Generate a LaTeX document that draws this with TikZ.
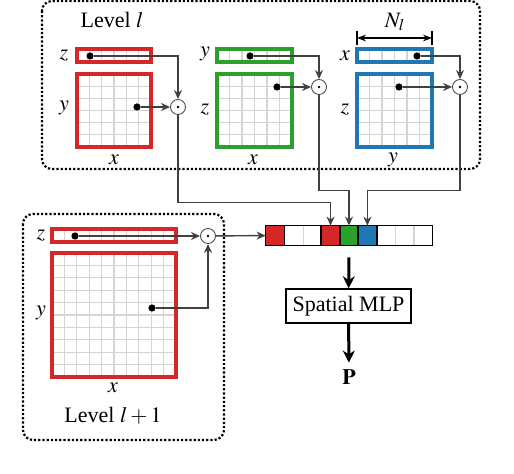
\documentclass[tikz,border=0pt]{standalone}
\usepackage{mathptmx}
\usepackage{fontspec}
\setmainfont{Liberation Serif}
\usetikzlibrary{arrows.meta,positioning}

\definecolor{planered}{HTML}{D62728}
\definecolor{planegreen}{HTML}{2CA02C}
\definecolor{planeblue}{HTML}{1F77B4}

\tikzset{
  plane/.style={draw=#1, line width=1.7pt},
  cellline/.style={black!17, line width=0.6pt},
  wire/.style={draw=black!75, line width=0.7pt},
  conn/.style={wire, -{Stealth[length=4.5pt,width=4pt]}},
  mult/.style={draw=black!70, circle, line width=0.45pt, minimum size=7.5pt, inner sep=0pt},
  featdot/.style={circle, fill=black, inner sep=0pt, minimum size=3.6pt},
  levelbox/.style={densely dotted, line width=1.1pt, rounded corners=5pt},
  cell/.style={inner sep=0pt, minimum width=9.22pt, minimum height=9.5pt},
  bigarrow/.style={line width=1.5pt, -{Stealth[length=6pt,width=6pt]}}
}

% gray grid lines inside a plane: x0 y0 x1 y1 nx ny
\newcommand{\planegrid}[6]{%
  \foreach \k in {1,...,#5} {\draw[cellline] ({#1+\k*(#3-#1)/#5},#2) -- ({#1+\k*(#3-#1)/#5},#4);}
  \foreach \k in {1,...,#6} {\draw[cellline] (#1,{#2+\k*(#4-#2)/#6}) -- (#3,{#2+\k*(#4-#2)/#6});}
}

\begin{document}
\begin{tikzpicture}[x=0.5pt,y=-0.5pt,font=\fontsize{11}{13}\selectfont]
  \useasboundingbox (0,0) rectangle (514,474);

  % level l
  \draw[levelbox] (42,1) rectangle (480,169);
  \node (lvl) at (112,20) {Level $l$};

  % red planes
  \planegrid{77}{49}{151}{62}{6}{1}
  \planegrid{77}{74}{151}{147}{6}{6}
  \draw[plane=planered] (77,49) rectangle (151,62);
  \draw[plane=planered] (77,74) rectangle (151,147);
  \node (rz) at (64,56) {$z$};
  \node (ry) at (64,108) {$y$};
  \node (rx) at (114,160) {$x$};

  % green planes
  \planegrid{217}{49}{292}{62}{6}{1}
  \planegrid{217}{74}{292}{147}{6}{6}
  \draw[plane=planegreen] (217,49) rectangle (292,62);
  \draw[plane=planegreen] (217,74) rectangle (292,147);
  \node (gy) at (205,54) {$y$};
  \node (gz) at (205,110) {$z$};
  \node (gx) at (253,160) {$x$};

  % blue planes
  \planegrid{357}{49}{432}{62}{6}{1}
  \planegrid{357}{74}{432}{147}{6}{6}
  \draw[plane=planeblue] (357,49) rectangle (432,62);
  \draw[plane=planeblue] (357,74) rectangle (432,147);
  \node (bx) at (345,56) {$x$};
  \node (bz) at (345,110) {$z$};
  \node (by) at (393,160) {$y$};

  % resolution
  \draw[line width=0.55pt] (357,31) -- (357,45);
  \draw[line width=0.55pt] (432,31) -- (432,45);
  \draw[line width=0.55pt, {Stealth[length=4.5pt]}-{Stealth[length=4.5pt]}] (357,38) -- (432,38);
  \node (res) at (395,22) {$N_l$};

  % level l+1
  \draw[levelbox] (23,214) rectangle (224,440);
  \planegrid{52}{229}{176}{242}{10}{1}
  \planegrid{52}{253}{176}{377}{10}{10}
  \draw[plane=planered] (52,229) rectangle (176,242);
  \draw[plane=planered] (52,253) rectangle (176,377);
  \node (lz) at (41,236) {$z$};
  \node (ly) at (41,313) {$y$};
  \node (lx) at (113,388) {$x$};
  \node (lvlnext) at (113,416) {Level $l+1$};

  % sample points and products
  \node[featdot] (rzdot) at (90,56) {};
  \node[featdot] (rsdot) at (137,107) {};
  \node[mult] (m1) at (178,107) {};
  \node[featdot] (gzdot) at (250,56) {};
  \node[featdot] (gsdot) at (277,87) {};
  \node[mult] (m2) at (319,87) {};
  \node[featdot] (bzdot) at (417,56) {};
  \node[featdot] (bsdot) at (399,87) {};
  \node[mult] (m3) at (460,87) {};
  \node[featdot] (lzdot) at (75,236) {};
  \node[featdot] (lsdot) at (152,308) {};
  \node[mult] (m4) at (208,236) {};
  \foreach \m in {m1,m2,m3,m4} \fill (\m) circle (0.65pt);

  % feature vector
  \foreach \k/\c in {1/planered,2/white,3/white,4/planered,5/planegreen,6/planeblue,7/white,8/white,9/white}
    \node[cell, fill=\c] (v\k) at ({266+(\k-0.5)*18.44},235.5) {};
  \foreach \k in {1,...,8} \draw[cellline] (v\k.north east) -- (v\k.south east);
  \foreach \k in {1,4,5,6} \draw[line width=0.6pt] (v\k.north west) rectangle (v\k.south east);
  \draw[line width=0.8pt] (v1.north west) rectangle (v9.south east);

  \draw[conn] (rzdot) -| (m1);
  \draw[conn] (rsdot) -- (m1);
  \draw[conn] (gzdot) -| (m2);
  \draw[conn] (gsdot) -- (m2);
  \draw[conn] (bzdot) -| (m3);
  \draw[conn] (bsdot) -- (m3);
  \draw[conn] (lzdot) -- (m4);
  \draw[conn] (lsdot) -| (m4);

  \draw[conn] (m1) |- ([yshift=11.5pt]v4.north) -- (v4);
  \draw[conn] (m2) |- ([yshift=17.5pt]v5.north) -- (v5);
  \draw[conn] (m3) |- ([yshift=17.5pt]v6.north) -- (v6);
  \draw[conn] (m4) -- (v1);

  % decoder
  \node[draw, line width=0.75pt, minimum width=62.5pt, minimum height=17pt] (mlp) at (348.5,306) {Spatial MLP};
  \node (out) at (349,377) {$\mathbf{P}$};
  \draw[bigarrow] ([yshift=-6pt]v5.south) -- (mlp);
  \draw[bigarrow] (mlp) -- (out);
\end{tikzpicture}
\end{document}
